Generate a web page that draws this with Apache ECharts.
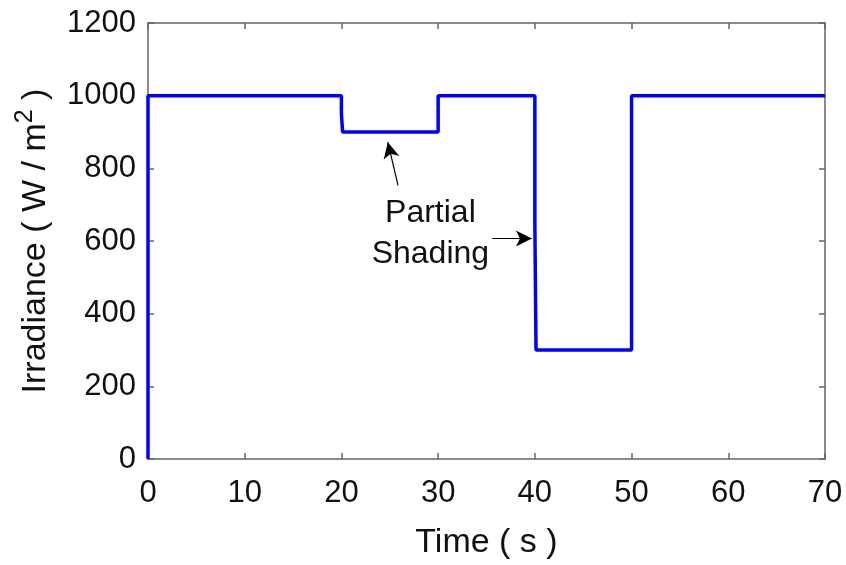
<!DOCTYPE html>
<html>
<head>
<meta charset="utf-8">
<script src="https://cdn.jsdelivr.net/npm/echarts@6/dist/echarts.min.js"></script>
<style>html,body{margin:0;padding:0;background:#fff;}#c{width:846px;height:565px;}</style>
</head>
<body>
<div id="c"></div>
<script>
// Irradiance profile (step changes), time in s
const timeValues = [0, 0, 20, 20, 20.12, 20.12, 30, 30, 40, 40, 40.12, 40.12, 50, 50, 70];
const irradianceValues = [0, 1000, 1000, 950, 950, 900, 900, 1000, 1000, 650, 650, 300, 300, 1000, 1000];
const xTicks = [0, 10, 20, 30, 40, 50, 60, 70];
const yTicks = [0, 200, 400, 600, 800, 1000, 1200];
// annotation: text and arrows (data coordinates)
const annotationText = 'Partial\nShading';
const annotationAt = [29.2, 619];
const arrow1 = [[25.85, 753], [24.8, 872]];
const arrow2 = [[35.6, 607], [39.7, 607]];

const FONT = 'Liberation Sans, Arial, sans-serif';
const axisColor = '#666';

const chart = echarts.init(document.getElementById('c'), null, {renderer: 'canvas'});
const seriesData = timeValues.map((t, i) => [t, irradianceValues[i]]);

const baseAxisX = {
  type: 'value', min: xTicks[0], max: xTicks[xTicks.length - 1], interval: 10,
  axisLine: {show: true, onZero: false, lineStyle: {color: axisColor, width: 1.5}},
  axisTick: {show: true, inside: true, length: 6, lineStyle: {color: axisColor, width: 1.5}},
  splitLine: {show: false}
};
const baseAxisY = {
  type: 'value', min: yTicks[0], max: yTicks[yTicks.length - 1], interval: 200,
  axisLine: {show: true, onZero: false, lineStyle: {color: axisColor, width: 1.5}},
  axisTick: {show: true, inside: true, length: 6, lineStyle: {color: axisColor, width: 1.5}},
  splitLine: {show: false}
};

chart.setOption({
  animation: false,
  backgroundColor: '#fff',
  grid: {left: 148, right: 21, top: 23, bottom: 99, containLabel: false},
  xAxis: [
    Object.assign({}, baseAxisX, {
      position: 'bottom',
      axisLabel: {show: true, color: '#111', fontSize: 31, fontFamily: FONT, margin: 19,
        formatter: v => String(v)},
      name: 'Time ( s )', nameLocation: 'middle', nameGap: 67,
      nameTextStyle: {color: '#111', fontSize: 34, fontFamily: FONT}
    }),
    Object.assign({}, baseAxisX, {position: 'top', axisLabel: {show: false}})
  ],
  yAxis: [
    Object.assign({}, baseAxisY, {
      position: 'left',
      axisLabel: {show: true, color: '#111', fontSize: 31, fontFamily: FONT, margin: 12,
        formatter: v => String(v)},
      name: 'Irradiance ( W / m{sup|2} )', nameLocation: 'middle', nameGap: 90,
      nameTextStyle: {color: '#111', fontSize: 34, fontFamily: FONT,
        rich: {sup: {fontSize: 25, fontFamily: FONT, color: '#111', verticalAlign: 'top', padding: [0, 0, 20, 0]}}}
    }),
    Object.assign({}, baseAxisY, {position: 'right', axisLabel: {show: false}})
  ],
  series: [{
    type: 'line',
    data: seriesData,
    showSymbol: false,
    symbol: 'none',
    lineStyle: {color: '#0000ff', width: 3.5},
    markLine: {
      silent: true,
      symbol: ['none', 'arrow'],
      symbolSize: [12, 16],
      label: {show: false},
      lineStyle: {color: '#000', width: 1.2, type: 'solid'},
      data: [
        [{coord: arrow1[0]}, {coord: arrow1[1]}],
        [{coord: arrow2[0]}, {coord: arrow2[1]}]
      ]
    },
    markPoint: {
      silent: true,
      symbol: 'circle',
      symbolSize: 1,
      itemStyle: {color: 'rgba(0,0,0,0)'},
      label: {show: true, position: 'inside', formatter: annotationText, color: '#111',
        fontSize: 32, fontFamily: FONT, lineHeight: 41, align: 'center', verticalAlign: 'middle'},
      data: [{coord: annotationAt}]
    }
  }]
});
</script>
</body>
</html>
